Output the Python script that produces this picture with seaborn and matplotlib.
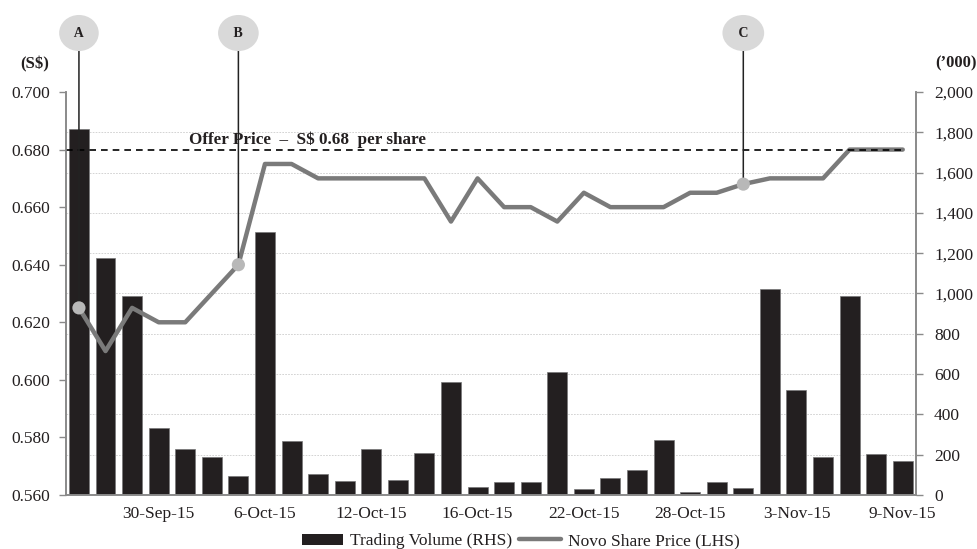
import numpy as np
import pandas as pd
import matplotlib
matplotlib.use("Agg")
import matplotlib.pyplot as plt
import seaborn as sns
from matplotlib.patches import Patch
from matplotlib.lines import Line2D
from matplotlib.ticker import FuncFormatter

# trading days, 25-Sep-15 to 9-Nov-15
dates = ["25-Sep-15", "28-Sep-15", "29-Sep-15", "30-Sep-15", "1-Oct-15", "2-Oct-15",
         "5-Oct-15", "6-Oct-15", "7-Oct-15", "8-Oct-15", "9-Oct-15", "12-Oct-15",
         "13-Oct-15", "14-Oct-15", "15-Oct-15", "16-Oct-15", "19-Oct-15", "20-Oct-15",
         "21-Oct-15", "22-Oct-15", "23-Oct-15", "26-Oct-15", "27-Oct-15", "28-Oct-15",
         "29-Oct-15", "30-Oct-15", "2-Nov-15", "3-Nov-15", "4-Nov-15", "5-Nov-15",
         "6-Nov-15", "9-Nov-15"]

# trading volume ('000), right axis
volume = [1818, 1176, 989, 332, 230, 190, 93, 1304, 266, 104, 68, 230,
          73, 210, 561, 41, 63, 63, 612, 31, 83, 122, 271, 17,
          63, 37, 1022, 521, 190, 989, 202, 169]

# share price (S$), left axis
price = [0.625, 0.610, 0.625, 0.620, 0.620, 0.630, 0.640, 0.675, 0.675, 0.670, 0.670, 0.670,
         0.670, 0.670, 0.655, 0.670, 0.660, 0.660, 0.655, 0.665, 0.660, 0.660, 0.660, 0.665,
         0.665, 0.668, 0.670, 0.670, 0.670, 0.680, 0.680, 0.680]

offer_price = 0.68
tick_idx = [3, 7, 11, 15, 19, 23, 27, 31]
events = {"A": 0, "B": 6, "C": 25}

df = pd.DataFrame({"date": dates, "volume": volume, "price": price})
df["idx"] = np.arange(len(df))

sns.set_style("white")
plt.rcParams["font.family"] = ["Liberation Serif", "DejaVu Serif"]

txt = "#231f20"
grey = "#8a8a8a"

fig = plt.figure(figsize=(9.77, 5.49), dpi=100)
ax_vol = fig.add_axes([0.0672, 0.0984, 0.8704, 0.734])
ax_price = ax_vol.twinx()

# volume bars (RHS)
sns.barplot(data=df, x="idx", y="volume", color="#231f20", width=0.75,
            edgecolor="#777777", linewidth=0.5, saturation=1, ax=ax_vol)
ax_vol.set_ylim(0, 2000)
ax_vol.set_yticks(np.arange(0, 2001, 200))
ax_vol.yaxis.set_major_formatter(FuncFormatter(lambda v, p: f"{int(v):,}"))
ax_vol.yaxis.tick_right()
ax_vol.yaxis.set_label_position("right")
for v in range(200, 2000, 200):
    ax_vol.axhline(v, color="#cccccc", lw=0.6, ls=(0, (2, 1.5)), zorder=0)

# share price line (LHS)
sns.lineplot(data=df, x="idx", y="price", color="#7a7a7a", lw=3.2, ax=ax_price)
ax_price.set_ylim(0.56, 0.70)
ax_price.set_yticks(np.arange(0.56, 0.7001, 0.02))
ax_price.yaxis.set_major_formatter(FuncFormatter(lambda v, p: f"{v:.3f}"))
ax_price.yaxis.tick_left()
ax_price.yaxis.set_label_position("left")

ax_price.hlines(offer_price, -0.5, len(df) - 1, colors="black", lw=1.2,
                linestyles=(0, (4, 3)))
ax_price.text(8.6, offer_price + 0.0007, "Offer Price  \u2013  S$ 0.68  per share",
              ha="center", va="bottom", fontsize=12.3, fontweight="bold", color=txt)

# event markers
for lab, i in events.items():
    ax_price.scatter(i, price[i], s=90, color="#b8b8b8", zorder=5, edgecolor="none")
    ax_price.annotate(f" {lab} ", xy=(i, price[i]), xytext=(i, 0.7205), textcoords="data",
                      ha="center", va="center", fontsize=10, fontweight="bold", color=txt,
                      annotation_clip=False,
                      bbox=dict(boxstyle="ellipse,pad=0.45", fc="#d9d9d9", ec="none"),
                      arrowprops=dict(arrowstyle="-", color="#222222", lw=1.1,
                                      shrinkA=0, shrinkB=0))

ax_vol.set_xlim(-0.5, len(df) - 0.5)
ax_vol.set_xticks(tick_idx)
ax_vol.set_xticklabels([dates[i] for i in tick_idx])

for a in (ax_vol, ax_price):
    a.set_xlabel("")
    a.set_ylabel("")
    a.spines["top"].set_visible(False)
    for s in ("left", "right", "bottom"):
        a.spines[s].set_color(grey)
        a.spines[s].set_linewidth(1.2)
    a.tick_params(labelsize=12.5, colors=txt)
ax_vol.tick_params(axis="x", length=0, pad=8)
ax_vol.tick_params(axis="y", length=5, width=1, color=grey, pad=8)
ax_price.tick_params(axis="y", length=5, width=1, color=grey, pad=6)

fig.text(0.036, 0.883, "(S$)", ha="center", va="center", fontsize=12, fontweight="bold", color=txt)
fig.text(1.0, 0.885, "(\u2019000)", ha="right", va="center", fontsize=12, fontweight="bold", color=txt)

handles = [Patch(facecolor="#231f20", edgecolor="none"),
           Line2D([0], [0], color="#7a7a7a", lw=3.2)]
fig.legend(handles, ["Trading Volume (RHS)", "Novo Share Price (LHS)"],
           loc="center", bbox_to_anchor=(0.533, 0.014), ncol=2, frameon=False,
           fontsize=12.5, handlelength=2.4, handleheight=0.6, columnspacing=0.4,
           handletextpad=0.4, labelcolor=txt)

fig.savefig("out.png", dpi=100)
